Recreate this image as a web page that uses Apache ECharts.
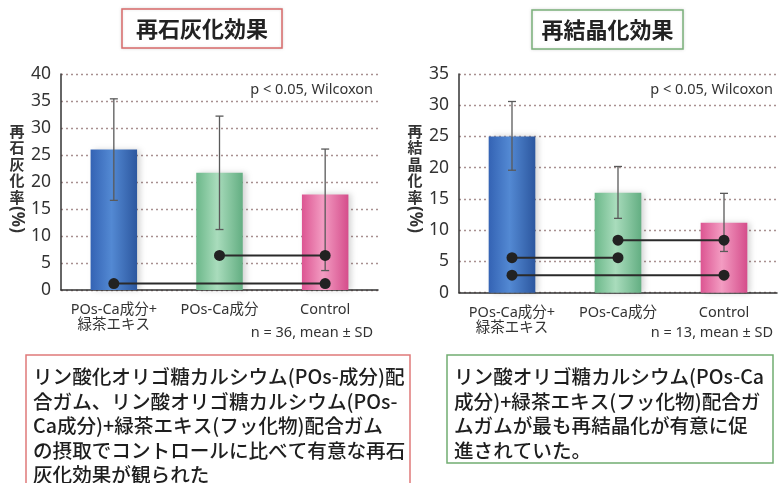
<!DOCTYPE html>
<html>
<head>
<meta charset="utf-8">
<script src="https://cdn.jsdelivr.net/npm/echarts@6/dist/echarts.min.js"></script>
<style>
html,body{margin:0;padding:0;background:#fff;}
#chart{width:778px;height:483px;}
</style>
</head>
<body>
<div id="chart"></div>
<script>
// ---- data ----
const categories = ['POs-Ca成分+\n緑茶エキス', 'POs-Ca成分', 'Control'];
// 再石灰化率 (%)
const reminMean = [26.0, 21.7, 17.7];
const reminSdHigh = [35.4, 32.2, 26.1];
const reminSdLow = [16.6, 11.2, 3.6];
const reminPairs = [[1, 2, 6.4], [0, 2, 1.2]];
const reminTicks = { min: 0, max: 40, interval: 5 };
// 再結晶化率 (%)
const recrystMean = [25.0, 16.0, 11.2];
const recrystSdHigh = [30.6, 20.2, 15.9];
const recrystSdLow = [19.6, 11.9, 6.6];
const recrystPairs = [[1, 2, 8.4], [0, 1, 5.6], [0, 2, 2.8]];
const recrystTicks = { min: 0, max: 35, interval: 5 };
// texts
const leftTitle = '再石灰化効果';
const rightTitle = '再結晶化効果';
const leftYName = '再\n石\n灰\n化\n率';
const rightYName = '再\n結\n晶\n化\n率';
const pText = 'p < 0.05, Wilcoxon';
const leftNText = 'n = 36, mean ± SD';
const rightNText = 'n = 13, mean ± SD';
const leftNote = 'リン酸化オリゴ糖カルシウム(POs-成分)配\n合ガム、リン酸オリゴ糖カルシウム(POs-\nCa成分)+緑茶エキス(フッ化物)配合ガム\nの摂取でコントロールに比べて有意な再石\n灰化効果が観られた';
const rightNote = 'リン酸オリゴ糖カルシウム(POs-Ca\n成分)+緑茶エキス(フッ化物)配合ガ\nムガムが最も再結晶化が有意に促\n進されていた。';

// ---- styles ----
const LATIN = '"Noto Sans", "Noto Sans CJK JP", sans-serif';
const CJK = '"Noto Sans CJK JP", sans-serif';
function grad(a, b, c) {
  return new echarts.graphic.LinearGradient(0, 0, 1, 0, [
    { offset: 0, color: a }, { offset: 0.45, color: b }, { offset: 1, color: c }
  ]);
}
const barColors = [
  grad('#3463b4', '#5389d3', '#2c579f'),
  grad('#6cb88a', '#a9dcbc', '#63ae82'),
  grad('#dc5592', '#f39cc2', '#d54d8b')
];

const chart = echarts.init(document.getElementById('chart'));

function xAxisCfg(gi) {
  return {
    type: 'category', gridIndex: gi, data: categories,
    axisLine: { lineStyle: { color: '#333', width: 1.5 } },
    axisTick: { inside: true, length: 6, lineStyle: { color: '#333', width: 1.2 } },
    axisLabel: { interval: 0, color: '#333', fontSize: 14.5, fontFamily: LATIN, margin: 12, lineHeight: 15.5 }
  };
}
function yAxisCfg(gi, t) {
  return {
    type: 'value', gridIndex: gi, min: t.min, max: t.max, interval: t.interval,
    axisLine: { show: true, lineStyle: { color: '#333', width: 1.5 } },
    axisTick: { show: false },
    axisLabel: { color: '#333', fontSize: 17.5, fontFamily: LATIN, margin: 10 },
    splitLine: { lineStyle: { color: '#a89090', type: [2, 3], width: 1.3 } }
  };
}
function barSeries(gi, vals) {
  return {
    type: 'bar', xAxisIndex: gi, yAxisIndex: gi, barWidth: '44%',
    data: vals.map((v, i) => ({ value: v, itemStyle: { color: barColors[i], shadowBlur: 6, shadowColor: 'rgba(0,0,0,0.18)', shadowOffsetX: 3 } })),
    z: 2
  };
}
function errSeries(gi, lo, hi) {
  return {
    type: 'custom', xAxisIndex: gi, yAxisIndex: gi, z: 3,
    data: lo.map((l, i) => [i, l, hi[i]]),
    encode: { x: 0, y: [1, 2] },
    renderItem: function (params, api) {
      const x = api.value(0);
      const pHi = api.coord([x, api.value(2)]);
      const pLo = api.coord([x, api.value(1)]);
      const w = 4;
      const st = { stroke: '#5a5a5a', lineWidth: 1.3 };
      return {
        type: 'group', children: [
          { type: 'line', shape: { x1: pHi[0], y1: pHi[1], x2: pLo[0], y2: pLo[1] }, style: st },
          { type: 'line', shape: { x1: pHi[0] - w, y1: pHi[1], x2: pHi[0] + w, y2: pHi[1] }, style: st },
          { type: 'line', shape: { x1: pLo[0] - w, y1: pLo[1], x2: pLo[0] + w, y2: pLo[1] }, style: st }
        ]
      };
    }
  };
}
function pairSeries(gi, pairs) {
  return pairs.map(p => ({
    type: 'line', xAxisIndex: gi, yAxisIndex: gi, z: 4,
    data: [[p[0], p[2]], [p[1], p[2]]],
    symbol: 'circle', symbolSize: 11, showSymbol: true,
    itemStyle: { color: '#222' },
    lineStyle: { color: '#2a2a2a', width: 2 },
    animation: false, silent: true
  }));
}

function titleBox(x, y, w, h, border, text) {
  return [
    { type: 'rect', shape: { x: x, y: y, width: w, height: h }, style: { fill: '#fff', stroke: border, lineWidth: 1.5, shadowBlur: 3, shadowColor: 'rgba(0,0,0,0.12)' }, z: 10 },
    { type: 'text', x: x + w / 2, y: y + h / 2, style: { text: text, fill: '#222', font: 'bold 22px ' + CJK, align: 'center', verticalAlign: 'middle' }, z: 11 }
  ];
}
function yName(cx, topY, text) {
  return [
    { type: 'text', x: cx, y: topY, style: { text: text, fill: '#333', font: 'bold 15px ' + CJK, align: 'center', verticalAlign: 'top', lineHeight: 16.5 }, z: 10 },
    { type: 'text', x: cx, y: topY + 5 * 16.5 + 14, rotation: -Math.PI / 2, style: { text: '(%)', fill: '#333', font: 'bold 17px ' + LATIN, align: 'center', verticalAlign: 'middle' }, z: 10 }
  ];
}
function smallText(xr, y, text) {
  return { type: 'text', x: xr, y: y, style: { text: text, fill: '#333', font: '14.5px ' + LATIN, align: 'right', verticalAlign: 'middle' }, z: 10 };
}
function noteBox(x, y, w, h, border, text) {
  return [
    { type: 'rect', shape: { x: x, y: y, width: w, height: h }, style: { fill: '#fff', stroke: border, lineWidth: 1.5 }, z: 10 },
    { type: 'text', x: x + 7, y: y + 9.5, style: { text: text, fill: '#1e1e1e', font: '500 19.6px ' + CJK, align: 'left', verticalAlign: 'top', lineHeight: 24.5 }, z: 11 }
  ];
}

chart.setOption({
  backgroundColor: '#fff',
  animation: false,
  grid: [
    { left: 61, top: 74, width: 317, height: 216 },
    { left: 459, top: 74, width: 318, height: 218.7 }
  ],
  xAxis: [xAxisCfg(0), xAxisCfg(1)],
  yAxis: [yAxisCfg(0, reminTicks), yAxisCfg(1, recrystTicks)],
  series: [
    barSeries(0, reminMean), errSeries(0, reminSdLow, reminSdHigh), ...pairSeries(0, reminPairs),
    barSeries(1, recrystMean), errSeries(1, recrystSdLow, recrystSdHigh), ...pairSeries(1, recrystPairs)
  ],
  graphic: [
    ...titleBox(122, 9, 160, 39, '#d86a6a', leftTitle),
    ...titleBox(532, 10, 151, 39, '#7ab07a', rightTitle),
    ...yName(17, 123, leftYName),
    ...yName(415, 123, rightYName),
    smallText(373, 90, pText),
    smallText(773, 90, pText),
    smallText(373, 333, leftNText),
    smallText(773, 333, rightNText),
    ...noteBox(26, 355, 384, 140, '#e07a7a', leftNote),
    ...noteBox(447, 355, 326, 108, '#72ad72', rightNote)
  ]
});
</script>
</body>
</html>
